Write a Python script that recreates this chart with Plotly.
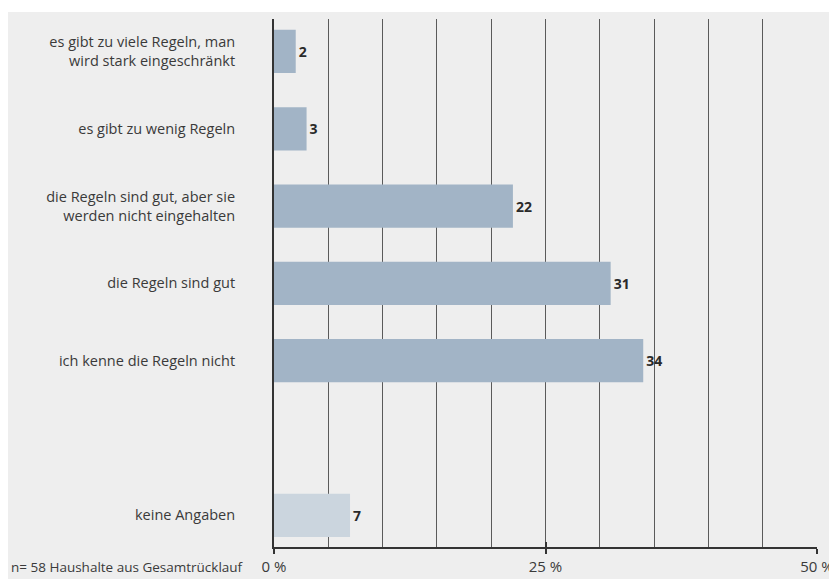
import plotly.graph_objects as go

categories = [
    "es gibt zu viele Regeln, man<br>wird stark eingeschränkt",
    "es gibt zu wenig Regeln",
    "die Regeln sind gut, aber sie<br>werden nicht eingehalten",
    "die Regeln sind gut",
    "ich kenne die Regeln nicht",
    "keine Angaben",
]
positions = [0, 1, 2, 3, 4, 6]
values = [2, 3, 22, 31, 34, 7]
bar_colors = ["#a2b4c6", "#a2b4c6", "#a2b4c6", "#a2b4c6", "#a2b4c6", "#cbd5de"]
x_tickvals = [0, 25, 50]
x_ticktext = ["0 %", "25 %", "50 %"]
footnote = "n= 58 Haushalte aus Gesamtrücklauf"

FONT = "Open Sans"
TXT = "#3a3a3a"

fig = go.Figure()
fig.add_trace(go.Bar(
    x=values, y=positions, orientation="h",
    marker=dict(color=bar_colors, line=dict(width=0)),
    width=0.56,
    text=[str(v) for v in values], textposition="outside",
    textfont=dict(family=FONT, size=14, color="#2a2a2a", weight="bold"),
    cliponaxis=False, hoverinfo="skip",
))
# invisible helper trace so the overlay axis (inner tick marks) is drawn
fig.add_trace(go.Scatter(
    x=[0], y=[0], xaxis="x2", mode="markers",
    marker=dict(opacity=0), hoverinfo="skip", showlegend=False,
))

fig.update_layout(
    width=837, height=579,
    margin=dict(l=266, r=23, t=11, b=31),
    paper_bgcolor="#eeeeee", plot_bgcolor="#eeeeee",
    showlegend=False,
    font=dict(family=FONT, color=TXT, size=14),
    xaxis=dict(
        range=[0, 50], tickvals=x_tickvals, ticktext=x_ticktext,
        showgrid=False, zeroline=False,
        showline=True, linecolor="#333333", linewidth=2,
        ticks="outside", ticklen=5, tickwidth=2, tickcolor="#333333",
        tickfont=dict(family=FONT, size=15, color=TXT),
        minor=dict(dtick=5, showgrid=True, gridcolor="#5a5a5a", gridwidth=1),
    ),
    xaxis2=dict(
        range=[0, 50], overlaying="x", anchor="y", side="bottom",
        tickvals=x_tickvals, showticklabels=False,
        showgrid=False, zeroline=False, showline=False,
        ticks="inside", ticklen=5, tickwidth=2, tickcolor="#333333",
    ),
    yaxis=dict(
        range=[6.41, -0.42], tickvals=positions, ticktext=categories,
        showgrid=False, zeroline=False,
        showline=True, linecolor="#333333", linewidth=2,
        ticks="", ticklabelstandoff=34,
        tickfont=dict(family=FONT, size=14.5, color=TXT),
    ),
    annotations=[dict(
        text=footnote, xref="paper", yref="paper",
        x=-0.052, y=-0.037, xanchor="right", yanchor="middle",
        showarrow=False, font=dict(family=FONT, size=13.5, color=TXT),
    )],
    shapes=[dict(
        type="rect", xref="paper", yref="paper",
        x0=-0.6, x1=1.1, y0=1 + 7 / 537, y1=1 + 12 / 537,
        fillcolor="white", line=dict(width=0), layer="above",
    )],
)

fig.write_html("out.html")
